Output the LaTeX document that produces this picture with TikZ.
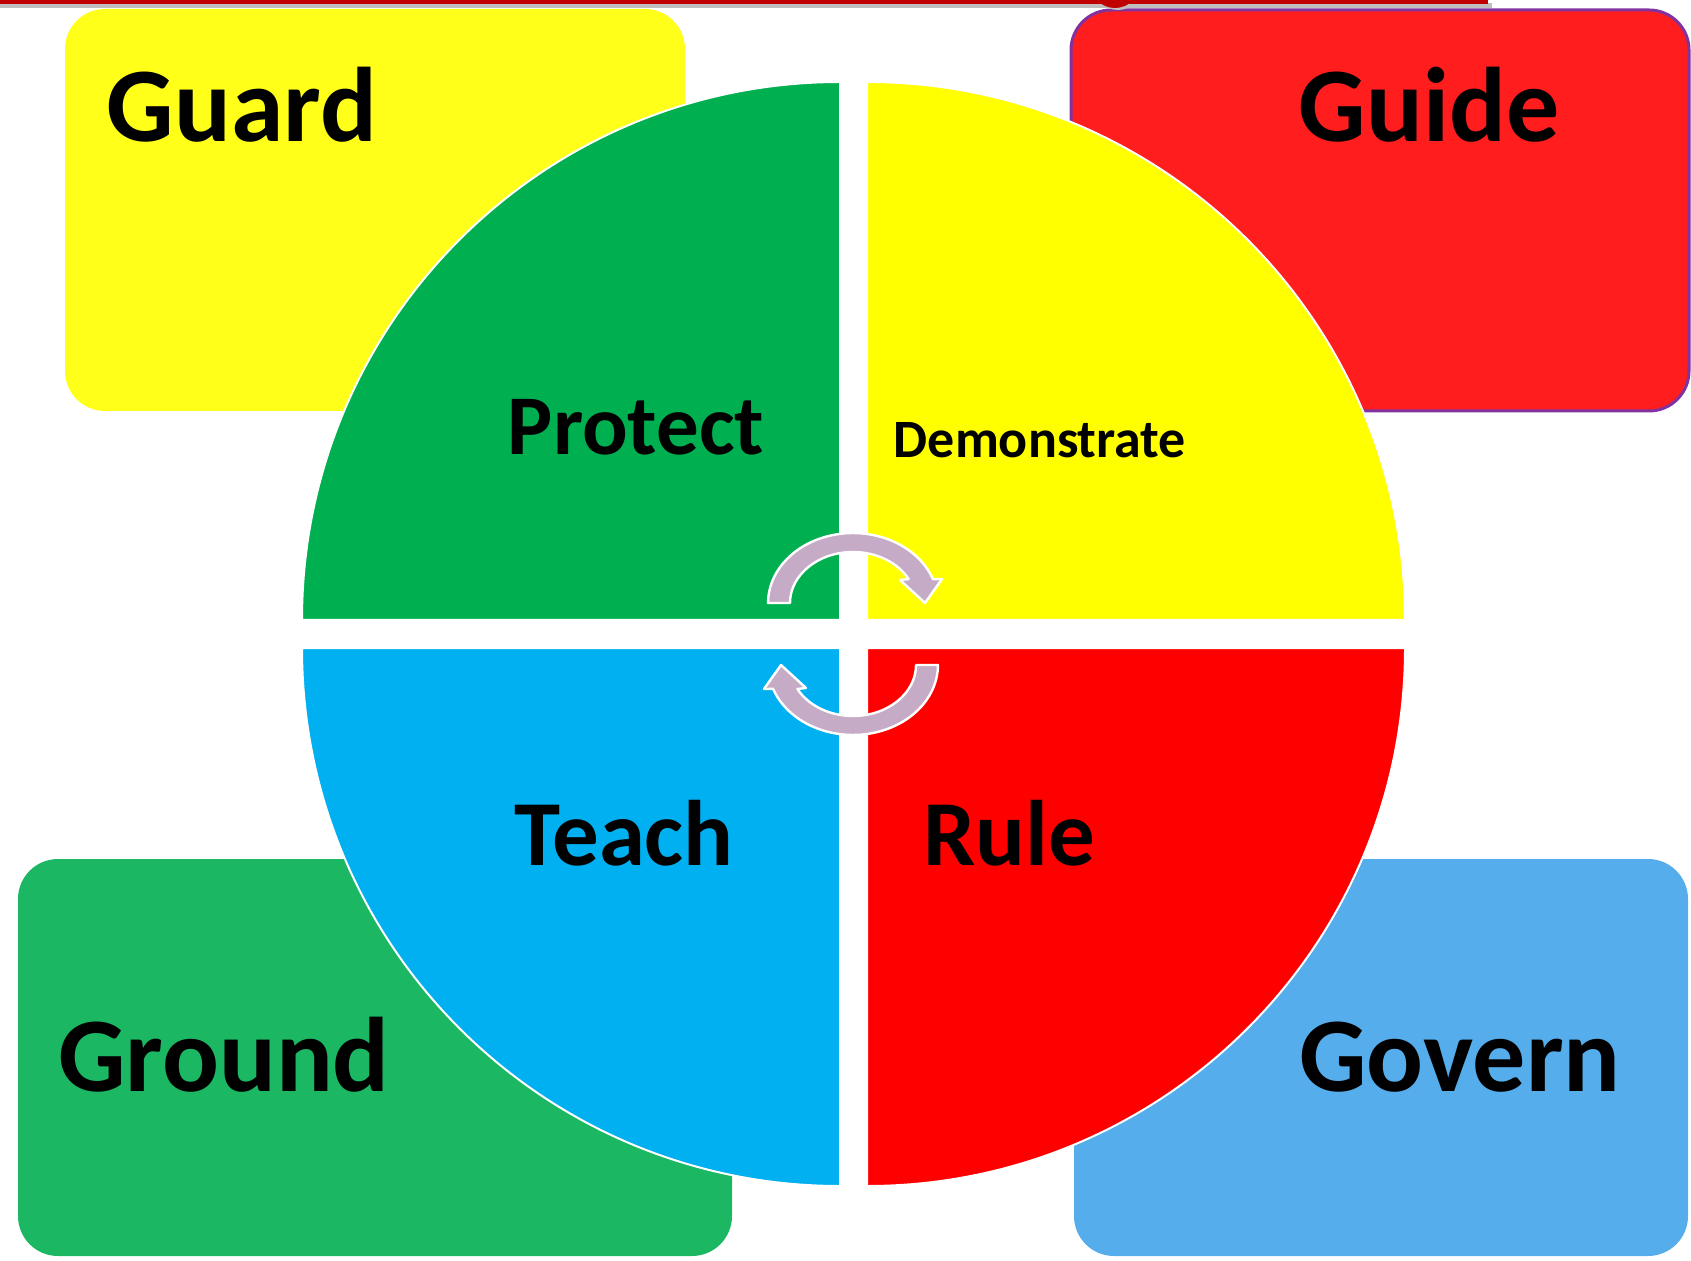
\documentclass[tikz,border=0pt]{standalone}
\usepackage{fontspec}
\setmainfont{Carlito}
\usepackage{color}
\definecolor{guardyellow}{RGB}{255, 255, 26}
\definecolor{guidered}{RGB}{255, 29, 29}
\definecolor{guidepurple}{RGB}{130, 50, 160}
\definecolor{groundgreen}{RGB}{27, 183, 99}
\definecolor{governblue}{RGB}{86, 173, 235}
\definecolor{protectgreen}{RGB}{0, 176, 80}
\definecolor{demoyellow}{RGB}{255, 255, 0}
\definecolor{teachblue}{RGB}{0, 176, 240}
\definecolor{rulered}{RGB}{255, 0, 0}
\definecolor{turnlilac}{RGB}{197, 171, 198}
\definecolor{topred}{RGB}{192, 0, 0}
\usepackage{tikz}
\usetikzlibrary{positioning}
\tikzstyle{cornerbox} = [rounded corners=20pt]
\tikzstyle{quarter} = [draw=white,line width=1pt]
\tikzstyle{turnarrow} = [fill=turnlilac,draw=white,line width=1.2pt,line join=round]
\tikzstyle{bigword} = [anchor=base,inner sep=0pt,font=\bfseries\fontsize{53}{60}\selectfont]
\tikzstyle{midword} = [anchor=base,inner sep=0pt,font=\bfseries\fontsize{46.5}{54}\selectfont]

\begin{document}
\begin{tikzpicture}[x=0.5pt,y=0.5pt]
    \useasboundingbox (0,0) rectangle (1691,1260);
    \clip (0,0) rectangle (1691,1260);

      % corner boxes
      \fill[cornerbox, guardyellow]  (65,849)   rectangle (685,1251);
      \filldraw[cornerbox, fill=guidered, draw=guidepurple, line width=1.5pt] (1071,849) rectangle (1689,1250);
      \fill[cornerbox, groundgreen]  (18,4)     rectangle (732,401);
      \fill[cornerbox, governblue]   (1074,4)   rectangle (1688,401);

      % four quarters
      \filldraw[quarter, fill=protectgreen] (840,640) -- ++(-538,0) arc[start angle=180, end angle=90, radius=538] -- cycle;
      \filldraw[quarter, fill=demoyellow]   (867,640) -- ++(0,538)  arc[start angle=90,  end angle=0,  radius=538] -- cycle;
      \filldraw[quarter, fill=teachblue]    (840,612) -- ++(0,-538) arc[start angle=270, end angle=180, radius=538] -- cycle;
      \filldraw[quarter, fill=rulered]      (867,612) -- ++(538,0)  arc[start angle=0,   end angle=-90, radius=538] -- cycle;

      % turning arrows
      \foreach \cy/\rot in {657/0, 595/180} {
        \begin{scope}[shift={(853,\cy)}, rotate=\rot]
          \filldraw[turnarrow] (-63,0) arc[start angle=180, end angle=28, x radius=63, y radius=51]
            -- (47,23) -- (72,0) -- (89,24) -- (79.9,23.9)
            arc[start angle=20, end angle=180, x radius=85, y radius=70] -- cycle;
        \end{scope}
      }

      % top strip
      \fill[black!25] (0,1252) rectangle (1492,1257);
      \fill[black!25] (1118,1275) circle (25);
      \fill[topred] (0,1256) rectangle (1488,1260);
      \fill[topred] (1115,1277) circle (25);

      % words
      \node[bigword] (guard)  at (242,1118) {Guard};
      \node[bigword] (guide)  at (1429,1118) {Guide};
      \node[bigword] (ground) at (224,169) {Ground};
      \node[bigword] (govern) at (1460,169) {Govern};
      \node[anchor=base,inner sep=0pt,font=\bfseries\fontsize{42.5}{50}\selectfont] (protect) at (636,805) {Protect};
      \node[anchor=base,inner sep=0pt,font=\bfseries\fontsize{27}{33}\selectfont] (demo) at (1040,802) {Demonstrate};
      \node[midword] (teach) at (624,395) {Teach};
      \node[midword] (rule)  at (1009,395) {Rule};
    \end{tikzpicture}
\end{document}
